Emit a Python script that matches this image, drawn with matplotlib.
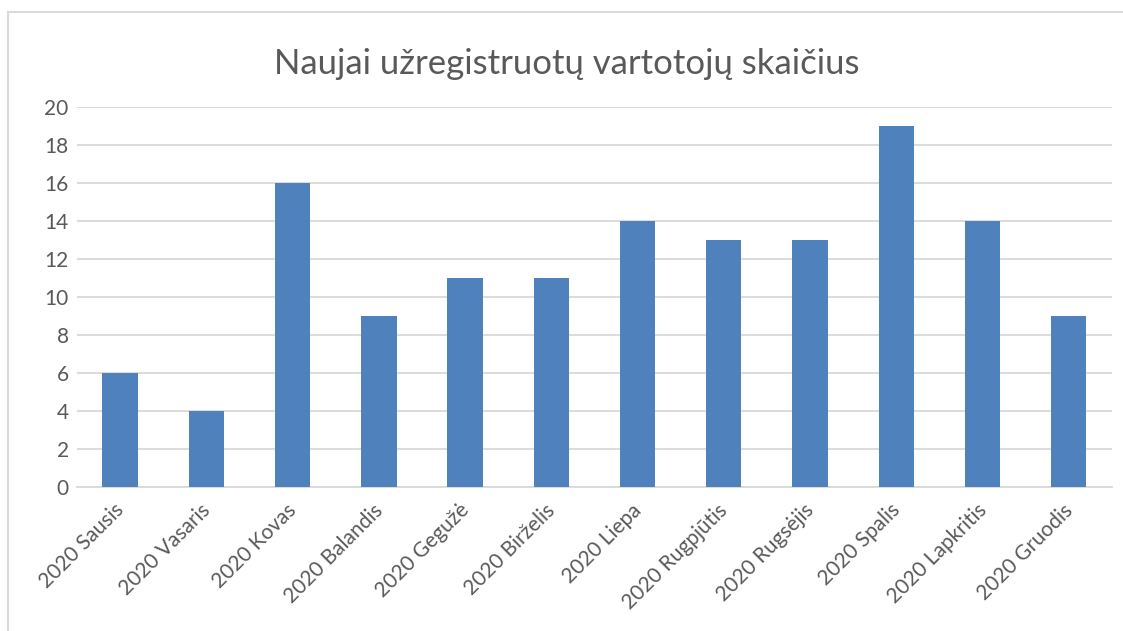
import matplotlib.pyplot as plt
from matplotlib.patches import Rectangle
from matplotlib.transforms import ScaledTranslation

plt.rcParams['font.family'] = ['Lato', 'DejaVu Sans']

# Data
months = ['2020 Sausis', '2020 Vasaris', '2020 Kovas', '2020 Balandis',
          '2020 Gegužė', '2020 Birželis', '2020 Liepa', '2020 Rugpjūtis',
          '2020 Rugsėjis', '2020 Spalis', '2020 Lapkritis', '2020 Gruodis']
users = [6, 4, 16, 9, 11, 11, 14, 13, 13, 19, 14, 9]
yticks = [0, 2, 4, 6, 8, 10, 12, 14, 16, 18, 20]

text_col = '#595959'
grid_col = '#D9D9D9'

fig = plt.figure(figsize=(11.23, 6.31), dpi=100)
ax = fig.add_axes([0.0686, 0.228, 0.9214, 0.602])

x = range(len(months))
ax.bar(x, users, width=0.41, color='#4F81BD', zorder=3)

ax.set_xlim(-0.5, len(months) - 0.5)
ax.set_ylim(0, 20)
ax.set_yticks(yticks)
ax.set_xticks(list(x))
ax.set_xticklabels([])
# rotated category labels, nudged left/down like Excel places them
shift = ScaledTranslation(-6 / 100, -13 / 100, fig.dpi_scale_trans)
for i, m in zip(x, months):
    ax.text(i, 0, m, transform=ax.get_xaxis_transform() + shift,
            rotation=45, ha='right', va='top', rotation_mode='anchor',
            fontsize=15, color=text_col)
ax.tick_params(axis='y', labelsize=15, colors=text_col, length=0, pad=6)
ax.tick_params(axis='x', length=0)
ax.grid(axis='y', color=grid_col, linewidth=1.3, zorder=0)
for s in ['top', 'right', 'left']:
    ax.spines[s].set_visible(False)
ax.spines['bottom'].set_color(grid_col)
ax.spines['bottom'].set_linewidth(1.3)

fig.text(0.505, 0.898, 'Naujai užregistruotų vartotojų skaičius',
         ha='center', va='center', fontsize=25, color=text_col)

# chart frame (only top and left edges visible in crop)
fig.patches.append(Rectangle((8 / 1123, -0.1), 1.2, 1 - 12 / 631 + 0.1,
                             transform=fig.transFigure, fill=False,
                             edgecolor=grid_col, linewidth=1.5))

fig.savefig('out.png', dpi=100)
